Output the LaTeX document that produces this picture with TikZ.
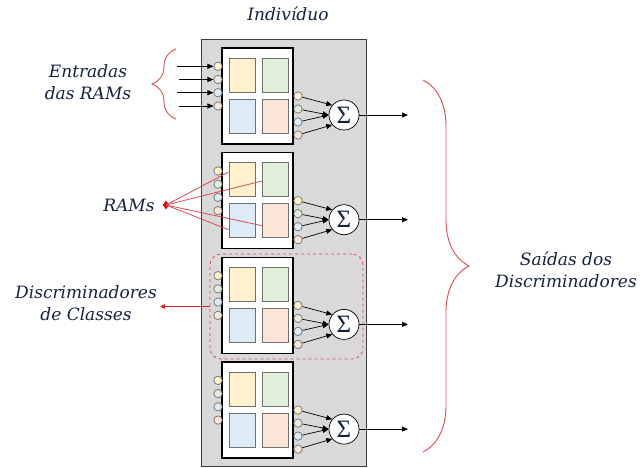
\documentclass[tikz,border=0pt]{standalone}
\usepackage{fontspec}
\setmainfont{DejaVu Serif}
\newfontfamily\sigmafont{Liberation Serif}
\usetikzlibrary{arrows.meta,shapes.geometric,decorations.pathreplacing,calc}

\definecolor{panelgray}{HTML}{D9D9D9}
\definecolor{paneledge}{HTML}{404040}
\definecolor{cellyellow}{HTML}{FFF2CC}
\definecolor{cellgreen}{HTML}{E2EFDA}
\definecolor{cellblue}{HTML}{DDEBF7}
\definecolor{cellorange}{HTML}{FBE5D6}
\definecolor{celledge}{HTML}{707070}
\definecolor{labelnavy}{HTML}{14213D}
\definecolor{markred}{HTML}{DE4B57}
\definecolor{deepred}{HTML}{CC1010}

\tikzset{
  panel/.style={fill=panelgray, draw=paneledge, line width=0.8pt},
  ramblock/.style={draw=black, fill=white, line width=1.4pt, minimum width=71pt, minimum height=96pt, inner sep=0pt},
  cell/.style={draw=celledge, line width=0.9pt, minimum width=26pt, minimum height=34pt, inner sep=0pt},
  port/.style={circle, draw=celledge, line width=0.7pt, minimum size=8.4pt, inner sep=0pt},
  summer/.style={circle, draw=black, fill=white, line width=0.7pt, minimum size=30pt, inner sep=0pt,
    font=\sigmafont\fontsize{25}{25}\selectfont, text=labelnavy},
  flow/.style={-{Triangle[length=6pt,width=5pt]}, line width=0.7pt, black},
  lbl/.style={font=\itshape\fontsize{17}{22}\selectfont, text=labelnavy, align=center},
  redbrace/.style={draw=markred, line width=0.9pt, decorate},
  pointer/.style={draw=markred, line width=0.8pt},
}

\begin{document}
\begin{tikzpicture}[x=1pt,y=-1pt]
\useasboundingbox (0,0) rectangle (641,468);

% the individual: grey panel holding the four discriminators
\node[panel, minimum width=165pt, minimum height=427pt, inner sep=0pt] (ind) at (284,252.5) {};
\node[lbl] (indlbl) at (288,14) {Indivíduo};

% four class discriminators
\foreach \k in {1,...,4} {
  \pgfmathsetmacro\T{48+104.7*(\k-1)}
  \node[ramblock] (blk\k) at (257.5,\T+48) {};
  \node[cell, fill=cellyellow] (ya\k) at (242,\T+27) {};
  \node[cell, fill=cellgreen]  (gr\k) at (275.5,\T+27) {};
  \node[cell, fill=cellblue]   (bl\k) at (242,\T+68) {};
  \node[cell, fill=cellorange] (or\k) at (275.5,\T+68) {};
  % input ports
  \node[port, fill=cellyellow] (ia\k) at (218,\T+18.3) {};
  \node[port, fill=cellgreen]  (ib\k) at (218,\T+31.5) {};
  \node[port, fill=cellblue]   (ic\k) at (218,\T+44.7) {};
  \node[port, fill=cellorange] (id\k) at (218,\T+58) {};
  % output ports
  \node[port, fill=cellyellow] (oa\k) at (298,\T+48) {};
  \node[port, fill=cellgreen]  (ob\k) at (298,\T+61) {};
  \node[port, fill=cellblue]   (oc\k) at (298,\T+74) {};
  \node[port, fill=cellorange] (od\k) at (298,\T+87) {};
  % adder
  \node[summer] (sum\k) at (344,\T+67) {Σ};
  \draw[flow] (oa\k) -- (sum\k.140);
  \draw[flow] (ob\k) -- (sum\k.180);
  \draw[flow] (oc\k) -- (sum\k.180);
  \draw[flow] (od\k) -- (sum\k.220);
  \coordinate (out\k) at (408,\T+67);
  \draw[flow] (sum\k) -- (out\k);
}

% inputs of the first discriminator
\coordinate (in1) at (177,66.3);
\coordinate (in2) at (179,79.5);
\coordinate (in3) at (177,92.7);
\coordinate (in4) at (179,106);
\draw[flow] (in1) -- (ia1);
\draw[flow] (in2) -- (ib1);
\draw[flow] (in3) -- (ic1);
\draw[flow] (in4) -- (id1);

\coordinate (brA) at (176,119);
\coordinate (brB) at (176,49);
\draw[redbrace, decoration={brace, amplitude=24pt}] (brA) -- (brB);
\node[lbl] (entlbl) at (88,82) {Entradas\\das RAMs};

% RAM pointer
\node[lbl, anchor=center] (ramlbl) at (129,205) {RAMs};
\node[diamond, fill=deepred, draw=deepred, minimum width=6pt, minimum height=8pt, inner sep=0pt] (dia) at (166,205) {};
\draw[pointer] (dia.center) -- ($(ya2.west)+(0,-7.7)$);
\draw[pointer] (dia.center) -- ($(gr2.west)+(0,1.3)$);
\draw[pointer] (dia.center) -- ($(bl2.west)+(0,9)$);
\draw[pointer] (dia.center) -- ($(or2.west)+(0,5)$);

% class discriminator highlight
\node[draw=markred, dashed, line width=0.8pt, rounded corners=11pt, minimum width=153pt, minimum height=105pt, inner sep=0pt] (cls) at (286.5,306.5) {};
\coordinate (clsend) at (160,306.5);
\draw[pointer, -{Triangle[length=5pt,width=4.5pt]}, deepred!70!markred] (cls.west) -- (clsend);
\node[lbl] (clslbl) at (86,303) {Discriminadores\\de Classes};

% outputs
\coordinate (brC) at (423,80);
\coordinate (brD) at (423,452);
\draw[redbrace, decoration={brace, amplitude=46pt}] (brC) -- (brD);
\node[lbl] (outlbl) at (566,270) {Saídas dos\\Discriminadores};
\end{tikzpicture}
\end{document}
